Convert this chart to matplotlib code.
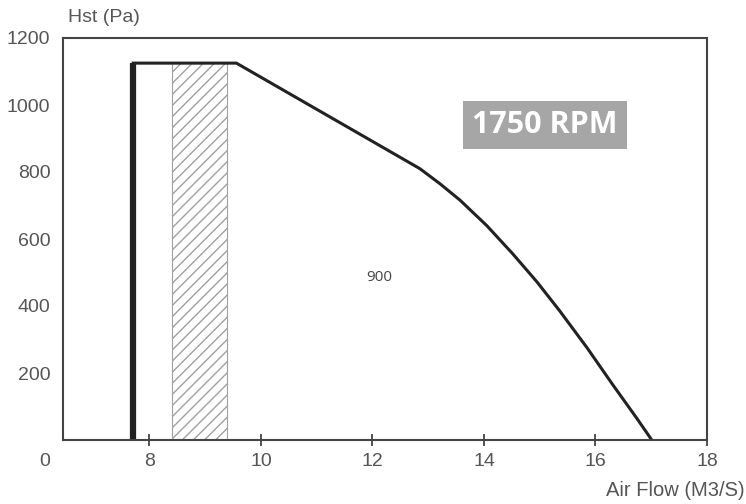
import matplotlib.pyplot as plt
from matplotlib.patches import Rectangle

plt.rcParams['font.family'] = ['Liberation Sans', 'DejaVu Sans']
plt.rcParams['hatch.color'] = '#9a9a9a'

# fan curve at 1750 RPM (air flow m3/s, static pressure Pa)
flow = [7.71, 7.71, 9.56, 12.85, 13.21, 13.57, 14.05, 14.52, 14.95,
        15.36, 15.85, 16.31, 16.74, 17.01]
hst = [0, 1125, 1125, 810, 765, 716, 640, 555, 472, 385, 275, 165, 65, 0]

# hatched zone
zone_x = [8.41, 9.40]
zone_top = 1125

xticks = [8, 10, 12, 14, 16, 18]
yticks = [200, 400, 600, 800, 1000, 1200]

fig = plt.figure(figsize=(7.46, 5.04), dpi=100)
ax = fig.add_axes([63 / 746, 64 / 504, (707 - 63) / 746, (440 - 38) / 504])

ax.add_patch(Rectangle((zone_x[0], 0), zone_x[1] - zone_x[0], zone_top,
                       facecolor='white', edgecolor='#a0a0a0', hatch='///',
                       linewidth=0.8))

ax.plot(flow[1:], hst[1:], color='#222222', lw=2.2, solid_joinstyle='miter')
ax.plot(flow[:2], hst[:2], color='#222222', lw=4.5, solid_capstyle='butt')

ax.set_xlim(6.45, 18)
ax.set_ylim(0, 1200)
ax.set_xticks(xticks)
ax.set_yticks(yticks)
ax.tick_params(axis='x', direction='inout', length=9, width=1.2,
               color='#333333', labelsize=14, labelcolor='#555555', pad=5)
ax.tick_params(axis='y', length=0, labelsize=14, labelcolor='#555555', pad=9)
for s in ax.spines.values():
    s.set_color('#444444')
    s.set_linewidth(1.5)

ax.text(15.09, 940, '1750 RPM', ha='center', va='center', fontsize=22,
        fontweight='bold', color='white', family=['Open Sans', 'DejaVu Sans'],
        bbox=dict(boxstyle='square,pad=0.3', facecolor='#a6a6a6',
                  edgecolor='none'))
ax.text(12.13, 484, '900', ha='center', va='center', fontsize=11,
        color='#444444', family=['Open Sans', 'DejaVu Sans'])

fig.text(68 / 746, 1 - 18 / 504, 'Hst (Pa)', ha='left', va='center',
         fontsize=14, color='#555555')
fig.text(745 / 746, 1 - 490 / 504, 'Air Flow (M3/S)', ha='right',
         va='center', fontsize=14.5, color='#555555')
fig.text(45 / 746, 1 - 462 / 504, '0', ha='center', va='center',
         fontsize=14, color='#555555')

fig.savefig('out.png', dpi=100, facecolor='white')
